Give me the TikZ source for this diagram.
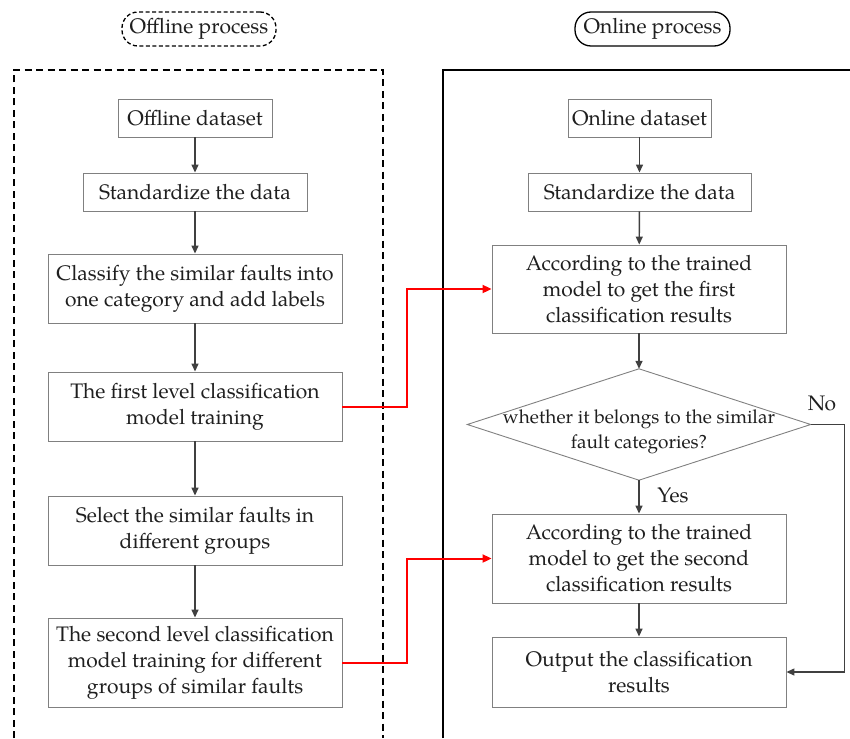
\documentclass[tikz,border=0pt]{standalone}
\usepackage{fontspec}
\setmainfont{TeX Gyre Pagella}
\usetikzlibrary{arrows.meta,calc}
\begin{document}
\begin{tikzpicture}[x=1pt,y=-1pt,
  every node/.style={font=\fontsize{21pt}{26pt}\selectfont, text=black!88},
  box/.style={draw=black!50, line width=0.9pt, align=center, inner sep=0pt},
  flow/.style={draw=black!75, line width=1.4pt, -{Triangle[length=8pt,width=7pt]}},
  redflow/.style={draw=red, line width=2pt, -{Triangle[length=9pt,width=8pt]}},
  frame/.style={line width=2.2pt, black},
  tag/.style={line width=1.3pt, rounded corners=16pt, inner sep=0pt}
]
\useasboundingbox (0,0) rectangle (850,738);

% titles
\node[tag, draw, dash pattern=on 4pt off 2.5pt, minimum width=154pt, minimum height=34pt] (toff) at (199,29) {Offline process};
\node[tag, draw, minimum width=155pt, minimum height=34pt] (ton) at (652.5,29) {Online process};

% frames
\draw[frame, dash pattern=on 7pt off 4.5pt] (14,738) -- (14,70) -- (383,70) -- (383,738);
\draw[frame] (443,738) -- (443,70) -- (850,70);

% left column
\node[box, minimum width=154pt, minimum height=38pt] (L1) at (195,118) {Offline dataset};
\node[box, minimum width=224pt, minimum height=38pt] (L2) at (195,192) {Standardize the data};
\node[box, minimum width=294pt, minimum height=69pt] (L3) at (195,288.5) {Classify the similar faults into\\one category and add labels};
\node[box, minimum width=294pt, minimum height=69pt] (L4) at (195,406.5) {The first level classification\\model training};
\node[box, minimum width=294pt, minimum height=69pt] (L5) at (195,530.5) {Select the similar faults in\\different groups};
\node[box, minimum width=294pt, minimum height=89pt] (L6) at (195,662.5) {The second level classification\\model training for different\\groups of similar faults};

% right column
\node[box, minimum width=143pt, minimum height=38pt] (R1) at (639.5,118) {Online dataset};
\node[box, minimum width=223pt, minimum height=38pt] (R2) at (639.5,192) {Standardize the data};
\node[box, minimum width=294pt, minimum height=88pt] (R3) at (639,289) {According to the trained\\model to get the first\\classification results};
\node[minimum width=343pt, minimum height=111pt, inner sep=0pt] (dec) at (639,424.5) {};
\draw[draw=black!50, line width=0.9pt] (dec.west) -- (dec.north) -- (dec.east) -- (dec.south) -- cycle;
\node[align=center, font=\fontsize{19pt}{25pt}\selectfont] (dectext) at (639,432) {whether it belongs to the similar\\fault categories?};
\node[box, minimum width=294pt, minimum height=89pt] (R4) at (639,558.5) {According to the trained\\model to get the second\\classification results};
\node[box, minimum width=294pt, minimum height=70pt] (R5) at (639,672) {Output the classification\\results};

\node (yes) at (673,495) {Yes};
\node (no) at (822,403) {No};

% flows left
\draw[flow] (L1) -- (L2);
\draw[flow] (L2) -- (L3);
\draw[flow] (L3) -- (L4);
\draw[flow] (L4) -- (L5);
\draw[flow] (L5) -- (L6);
% flows right
\draw[flow] (R1) -- (R2);
\draw[flow] (R2) -- (R3);
\draw[flow] (R3.south) -- (dec.north);
\draw[flow] (dec.south) -- (R4.north);
\draw[flow] (R4) -- (R5);
\draw[flow] (dec.east) -- ++(34,0) |- (R5.east);

% red cross links
\draw[redflow] (L4.east) -- ++(65,0) |- (R3.west);
\draw[redflow] (L6.east) -- ++(65,0) |- (R4.west);
\end{tikzpicture}
\end{document}
